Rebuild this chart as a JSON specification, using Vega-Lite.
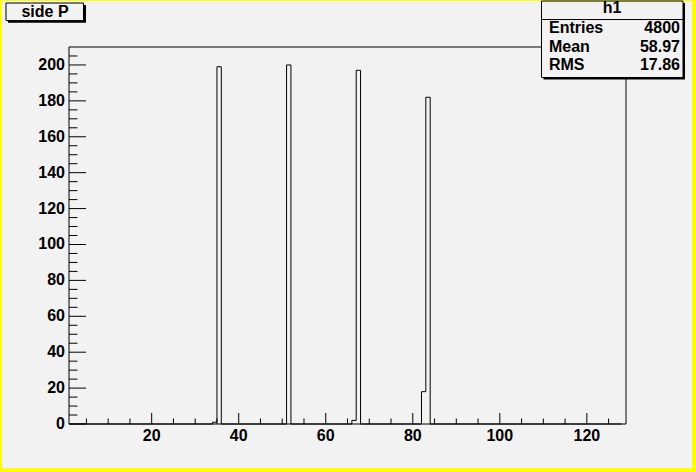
{
  "$schema": "https://vega.github.io/schema/vega-lite/v6.json",
  "width": 557,
  "height": 377,
  "autosize": {"type": "none"},
  "padding": {"left": 69, "top": 47, "right": 70, "bottom": 48},
  "background": "#ffff00",
  "config": {"view": {"stroke": null}, "font": "Liberation Sans", "axis": {"disable": true}},
  "data": {"values": [
    {"bin":1,"count":0},{"bin":2,"count":0},{"bin":3,"count":0},{"bin":4,"count":0},{"bin":5,"count":0},{"bin":6,"count":0},{"bin":7,"count":0},{"bin":8,"count":0},
    {"bin":9,"count":0},{"bin":10,"count":0},{"bin":11,"count":0},{"bin":12,"count":0},{"bin":13,"count":0},{"bin":14,"count":0},{"bin":15,"count":0},{"bin":16,"count":0},
    {"bin":17,"count":0},{"bin":18,"count":0},{"bin":19,"count":0},{"bin":20,"count":0},{"bin":21,"count":0},{"bin":22,"count":0},{"bin":23,"count":0},{"bin":24,"count":0},
    {"bin":25,"count":0},{"bin":26,"count":0},{"bin":27,"count":0},{"bin":28,"count":0},{"bin":29,"count":0},{"bin":30,"count":0},{"bin":31,"count":0},{"bin":32,"count":0},
    {"bin":33,"count":0},{"bin":34,"count":1},{"bin":35,"count":199},{"bin":36,"count":0},{"bin":37,"count":0},{"bin":38,"count":0},{"bin":39,"count":0},{"bin":40,"count":0},
    {"bin":41,"count":0},{"bin":42,"count":0},{"bin":43,"count":0},{"bin":44,"count":0},{"bin":45,"count":0},{"bin":46,"count":0},{"bin":47,"count":0},{"bin":48,"count":0},
    {"bin":49,"count":0},{"bin":50,"count":0},{"bin":51,"count":200},{"bin":52,"count":0},{"bin":53,"count":0},{"bin":54,"count":0},{"bin":55,"count":0},{"bin":56,"count":0},
    {"bin":57,"count":0},{"bin":58,"count":0},{"bin":59,"count":0},{"bin":60,"count":0},{"bin":61,"count":0},{"bin":62,"count":0},{"bin":63,"count":0},{"bin":64,"count":0},
    {"bin":65,"count":0},{"bin":66,"count":2},{"bin":67,"count":197},{"bin":68,"count":0},{"bin":69,"count":0},{"bin":70,"count":0},{"bin":71,"count":0},{"bin":72,"count":0},
    {"bin":73,"count":0},{"bin":74,"count":0},{"bin":75,"count":0},{"bin":76,"count":0},{"bin":77,"count":0},{"bin":78,"count":0},{"bin":79,"count":0},{"bin":80,"count":0},
    {"bin":81,"count":0},{"bin":82,"count":18},{"bin":83,"count":182},{"bin":84,"count":0},{"bin":85,"count":0},{"bin":86,"count":0},{"bin":87,"count":0},{"bin":88,"count":0},
    {"bin":89,"count":0},{"bin":90,"count":0},{"bin":91,"count":0},{"bin":92,"count":0},{"bin":93,"count":0},{"bin":94,"count":0},{"bin":95,"count":0},{"bin":96,"count":0},
    {"bin":97,"count":0},{"bin":98,"count":0},{"bin":99,"count":0},{"bin":100,"count":0},{"bin":101,"count":0},{"bin":102,"count":0},{"bin":103,"count":0},{"bin":104,"count":0},
    {"bin":105,"count":0},{"bin":106,"count":0},{"bin":107,"count":0},{"bin":108,"count":0},{"bin":109,"count":0},{"bin":110,"count":0},{"bin":111,"count":0},{"bin":112,"count":0},
    {"bin":113,"count":0},{"bin":114,"count":0},{"bin":115,"count":0},{"bin":116,"count":0},{"bin":117,"count":0},{"bin":118,"count":0},{"bin":119,"count":0},{"bin":120,"count":0},
    {"bin":121,"count":0},{"bin":122,"count":0},{"bin":123,"count":0},{"bin":124,"count":0},{"bin":125,"count":0},{"bin":126,"count":0},{"bin":127,"count":0},{"bin":128,"count":0}
  ]},
  "layer": [
    {
      "data": {"values": [{}]},
      "mark": {"type": "rect", "fill": "#f2f2f2", "stroke": null},
      "encoding": {
        "x": {"datum": -14.4, "type": "quantitative", "scale": {"domain": [1, 129], "nice": false, "zero": false}},
        "x2": {"datum": 144.17},
        "y": {"datum": 235.6, "type": "quantitative", "scale": {"domain": [0, 210], "nice": false, "zero": false}},
        "y2": {"datum": -24.5}
      }
    },
    {
      "data": {"values": [{}]},
      "mark": {"type": "rect", "fill": null, "stroke": "black", "strokeWidth": 1},
      "encoding": {
        "x": {"datum": 1, "type": "quantitative"},
        "x2": {"datum": 129},
        "y": {"datum": 0, "type": "quantitative"},
        "y2": {"datum": 210}
      }
    },
    {
      "data": {"values": [{"v":5},{"v":10},{"v":15},{"v":25},{"v":30},{"v":35},{"v":45},{"v":50},{"v":55},{"v":65},{"v":70},{"v":75},{"v":85},{"v":90},{"v":95},{"v":105},{"v":110},{"v":115},{"v":125}]},
      "mark": {"type": "tick", "orient": "vertical", "size": 5.5, "thickness": 1, "color": "black", "opacity": 1, "yOffset": -2.75},
      "encoding": {
        "x": {"field": "v", "type": "quantitative"},
        "y": {"datum": 0, "type": "quantitative"}
      }
    },
    {
      "data": {"values": [{"v":20},{"v":40},{"v":60},{"v":80},{"v":100},{"v":120}]},
      "layer": [
        {
          "mark": {"type": "tick", "orient": "vertical", "size": 11, "thickness": 1, "color": "black", "opacity": 1, "yOffset": -5.5},
          "encoding": {
            "x": {"field": "v", "type": "quantitative"},
            "y": {"datum": 0, "type": "quantitative"}
          }
        },
        {
          "mark": {"type": "text", "font": "Liberation Sans", "fontWeight": "bold", "fontSize": 16, "color": "black", "align": "center", "baseline": "top", "dy": 4},
          "encoding": {
            "x": {"field": "v", "type": "quantitative"},
            "y": {"datum": 0, "type": "quantitative"},
            "text": {"field": "v", "type": "quantitative"}
          }
        }
      ]
    },
    {
      "data": {"values": [{"v":5},{"v":10},{"v":15},{"v":25},{"v":30},{"v":35},{"v":45},{"v":50},{"v":55},{"v":65},{"v":70},{"v":75},{"v":85},{"v":90},{"v":95},{"v":105},{"v":110},{"v":115},{"v":125},{"v":130},{"v":135},{"v":145},{"v":150},{"v":155},{"v":165},{"v":170},{"v":175},{"v":185},{"v":190},{"v":195},{"v":205}]},
      "mark": {"type": "tick", "orient": "horizontal", "size": 8.5, "thickness": 1, "color": "black", "opacity": 1, "xOffset": 4.25},
      "encoding": {
        "y": {"field": "v", "type": "quantitative"},
        "x": {"datum": 1, "type": "quantitative"}
      }
    },
    {
      "data": {"values": [{"v":0},{"v":20},{"v":40},{"v":60},{"v":80},{"v":100},{"v":120},{"v":140},{"v":160},{"v":180},{"v":200}]},
      "layer": [
        {
          "mark": {"type": "tick", "orient": "horizontal", "size": 17, "thickness": 1, "color": "black", "opacity": 1, "xOffset": 8.5},
          "encoding": {
            "y": {"field": "v", "type": "quantitative"},
            "x": {"datum": 1, "type": "quantitative"}
          }
        },
        {
          "mark": {"type": "text", "font": "Liberation Sans", "fontWeight": "bold", "fontSize": 16, "color": "black", "align": "right", "baseline": "middle", "dx": -4},
          "encoding": {
            "y": {"field": "v", "type": "quantitative"},
            "x": {"datum": 1, "type": "quantitative"},
            "text": {"field": "v", "type": "quantitative"}
          }
        }
      ]
    },
    {
      "mark": {"type": "line", "interpolate": "step-after", "color": "black", "strokeWidth": 1},
      "encoding": {
        "x": {"field": "bin", "type": "quantitative"},
        "y": {"field": "count", "type": "quantitative"}
      }
    },
    {
      "data": {"values": [{}]},
      "mark": {"type": "rect", "fill": "black", "stroke": null},
      "encoding": {
        "x": {"datum": -13.02, "type": "quantitative"},
        "x2": {"datum": 4.91},
        "y": {"datum": 233.4, "type": "quantitative"},
        "y2": {"datum": 223.5}
      }
    },
    {
      "data": {"values": [{}]},
      "mark": {"type": "rect", "fill": "#f2f2f2", "stroke": "black", "strokeWidth": 1},
      "encoding": {
        "x": {"datum": -13.48, "type": "quantitative"},
        "x2": {"datum": 4.33},
        "y": {"datum": 234.5, "type": "quantitative"},
        "y2": {"datum": 224.7}
      }
    },
    {
      "data": {"values": [{}]},
      "mark": {"type": "text", "text": "side P", "font": "Liberation Sans", "fontWeight": "bold", "fontSize": 16, "color": "black", "align": "center", "baseline": "middle"},
      "encoding": {
        "x": {"datum": -4.52, "type": "quantitative"},
        "y": {"datum": 229.7, "type": "quantitative"}
      }
    },
    {
      "data": {"values": [{}]},
      "mark": {"type": "rect", "fill": "black", "stroke": null},
      "encoding": {
        "x": {"datum": 110.04, "type": "quantitative"},
        "x2": {"datum": 142.56},
        "y": {"datum": 234.5, "type": "quantitative"},
        "y2": {"datum": 191.9}
      }
    },
    {
      "data": {"values": [{}]},
      "mark": {"type": "rect", "fill": "#f2f2f2", "stroke": "black", "strokeWidth": 1},
      "encoding": {
        "x": {"datum": 109.58, "type": "quantitative"},
        "x2": {"datum": 142.1},
        "y": {"datum": 235.6, "type": "quantitative"},
        "y2": {"datum": 193.0}
      }
    },
    {
      "data": {"values": [{}]},
      "mark": {"type": "rule", "color": "black", "strokeWidth": 1},
      "encoding": {
        "x": {"datum": 109.58, "type": "quantitative"},
        "x2": {"datum": 142.1},
        "y": {"datum": 225.3, "type": "quantitative"}
      }
    },
    {
      "data": {"values": [{}]},
      "mark": {"type": "text", "text": "h1", "font": "Liberation Sans", "fontWeight": "bold", "fontSize": 16, "color": "black", "align": "center", "baseline": "middle"},
      "encoding": {
        "x": {"datum": 125.78, "type": "quantitative"},
        "y": {"datum": 231.5, "type": "quantitative"}
      }
    },
    {
      "data": {"values": [{"label": "Entries", "value": "4800", "row": 220.4}, {"label": "Mean", "value": "58.97", "row": 210.0}, {"label": "RMS", "value": "17.86", "row": 199.8}]},
      "layer": [
        {
          "mark": {"type": "text", "font": "Liberation Sans", "fontWeight": "bold", "fontSize": 16, "color": "black", "align": "left", "baseline": "middle"},
          "encoding": {
            "x": {"datum": 111.3, "type": "quantitative"},
            "y": {"field": "row", "type": "quantitative"},
            "text": {"field": "label"}
          }
        },
        {
          "mark": {"type": "text", "font": "Liberation Sans", "fontWeight": "bold", "fontSize": 16, "color": "black", "align": "right", "baseline": "middle"},
          "encoding": {
            "x": {"datum": 141.4, "type": "quantitative"},
            "y": {"field": "row", "type": "quantitative"},
            "text": {"field": "value"}
          }
        }
      ]
    }
  ]
}
